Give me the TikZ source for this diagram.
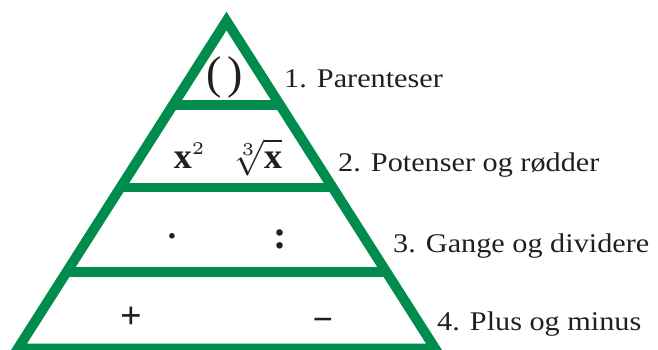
\documentclass[tikz,border=0pt]{standalone}
\usepackage{fontspec}
\usepackage{amsmath}
\setmainfont{Liberation Serif}
\newfontfamily\labelfont[FakeStretch=1.12]{Liberation Serif}
\usetikzlibrary{calc}
\definecolor{pyrgreen}{RGB}{0,140,76}
\definecolor{inkblack}{RGB}{35,31,32}
\tikzset{
  pyr/.style={draw=pyrgreen, line width=10pt, miter limit=20},
  bar/.style={draw=pyrgreen, line width=9.5pt},
  lbl/.style={anchor=base west, inner sep=0pt, text=inkblack, font=\labelfont\fontsize{27}{30}\selectfont},
  sym/.style={inner sep=0pt, text=inkblack}
}
\begin{document}
\begin{tikzpicture}[x=1pt,y=-1pt]
\useasboundingbox (0,0) rectangle (658,349);
\coordinate (apex) at (226.5,21);
\coordinate (bl) at (17.9,348.5);
\coordinate (br) at (435.1,348.5);
\draw[pyr] (apex) -- (bl) -- (br) -- cycle;
\foreach \t/\n in {0.2565/one,0.509/two,0.7664/three}{
  \coordinate (L\n) at ($(apex)!\t!(bl)$);
  \coordinate (R\n) at ($(apex)!\t!(br)$);
  \draw[bar] (L\n) -- (R\n);
}
% symbols
\node[sym, font=\fontsize{46}{50}\selectfont] (par) at (224.5,77) {(\hspace{6pt})};
\node[sym, anchor=base] (sq) at (190,168) {\scalebox{3.6}{$\mathbf{x}^{\scriptscriptstyle 2}$}};
\node[sym, anchor=base] (rt) at (257,168) {\scalebox{3.6}{$\sqrt[3]{\mathbf{x}}$}};
\node[sym, anchor=base, font=\bfseries\fontsize{34}{36}\selectfont] (dot) at (172,247) {·};
\node[sym, anchor=base, font=\bfseries\fontsize{40}{42}\selectfont] (col) at (280,248.5) {:};
\node[sym, anchor=base, font=\bfseries\fontsize{38}{40}\selectfont] (plus) at (131,328) {+};
\node[sym, anchor=base, font=\bfseries\fontsize{36}{40}\selectfont] (minus) at (323,331) {−};
% labels
\node[lbl] (l1) at (284,87) {1. Parenteser};
\node[lbl] (l2) at (338,171) {2. Potenser og rødder};
\node[lbl] (l3) at (393,252) {3. Gange og dividere};
\node[lbl] (l4) at (437,330) {4. Plus og minus};
\end{tikzpicture}
\end{document}
